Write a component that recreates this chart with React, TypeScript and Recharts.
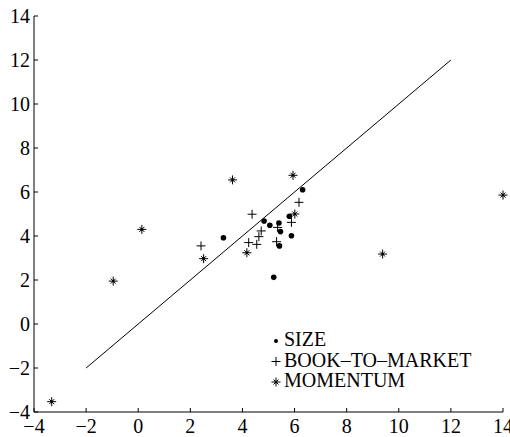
import {
  ScatterChart, Scatter, XAxis, YAxis, ReferenceLine, Legend,
} from 'recharts'

// average returns: x = predicted, y = realised
const sizeX = [3.27, 4.83, 5.05, 5.4, 5.46, 5.42, 5.8, 5.88, 6.31, 5.2]
const sizeY = [3.92, 4.68, 4.49, 4.59, 4.2, 3.55, 4.9, 4.01, 6.1, 2.12]
const btmX = [2.41, 4.37, 4.24, 4.55, 4.63, 4.72, 5.35, 5.31, 5.88, 6.17]
const btmY = [3.55, 4.99, 3.7, 3.62, 3.97, 4.23, 4.39, 3.74, 4.62, 5.53]
const momX = [-3.32, -0.96, 0.14, 2.51, 3.62, 4.17, 5.94, 6.01, 9.38, 14.0]
const momY = [-3.53, 1.95, 4.3, 2.97, 6.55, 3.24, 6.76, 5.0, 3.18, 5.86]

const lineEnds = [-2, 12]
const axisTicks = [-4, -2, 0, 2, 4, 6, 8, 10, 12, 14]
const legendLabels = ['SIZE', 'BOOK\u2013TO\u2013MARKET', 'MOMENTUM']

const toPoints = (xs: number[], ys: number[]) => xs.map((x, i) => ({ x, y: ys[i] }))

const sizeData = toPoints(sizeX, sizeY)
const btmData = toPoints(btmX, btmY)
const momData = toPoints(momX, momY)

const FONT = 'Liberation Serif'
const INK = '#000'

const fmt = (v: number) => (v < 0 ? '\u2212' + Math.abs(v) : String(v))

function Dot({ cx, cy }: any) {
  return <circle cx={cx} cy={cy} r={2.8} fill={INK} />
}

function Plus({ cx, cy }: any) {
  return (
    <g stroke={INK} strokeWidth={1}>
      <line x1={cx - 4.5} y1={cy} x2={cx + 4.5} y2={cy} />
      <line x1={cx} y1={cy - 4.5} x2={cx} y2={cy + 4.5} />
    </g>
  )
}

function Star({ cx, cy }: any) {
  return (
    <g stroke={INK} strokeWidth={1}>
      <line x1={cx - 4.5} y1={cy} x2={cx + 4.5} y2={cy} />
      <line x1={cx} y1={cy - 4.5} x2={cx} y2={cy + 4.5} />
      <line x1={cx - 2.5} y1={cy - 2.5} x2={cx + 2.5} y2={cy + 2.5} />
      <line x1={cx - 2.5} y1={cy + 2.5} x2={cx + 2.5} y2={cy - 2.5} />
      <circle cx={cx} cy={cy} r={1.3} fill={INK} stroke="none" />
    </g>
  )
}

const legendMarks = [Dot, Plus, Star]

function LegendBox() {
  return (
    <svg width={240} height={70}>
      {legendLabels.map((label, i) => {
        const Mark = legendMarks[i]
        const base = 20 + i * 20.5
        return (
          <g key={label}>
            {i === 0
              ? <circle cx={10} cy={base - 5} r={2} fill={INK} />
              : <Mark cx={10} cy={base - 5} />}
            <text x={18} y={base} fontFamily={FONT} fontSize={20} fill={INK}>{label}</text>
          </g>
        )
      })}
    </svg>
  )
}

export default function App() {
  const tickStyle = { fontFamily: FONT, fontSize: 20, fill: INK }
  return (
    <div style={{ position: 'absolute', left: 0, top: 0, background: '#fff' }}>
      <ScatterChart width={510} height={437} margin={{ top: 16, right: 7, bottom: 0, left: 0 }}>
        <XAxis
          type="number" dataKey="x" xAxisId="b" domain={[-4, 14]} ticks={axisTicks}
          height={25} tickSize={-4} tickMargin={11} tickFormatter={fmt}
          tick={tickStyle} stroke={INK} interval={0}
        />
        <XAxis
          type="number" dataKey="x" xAxisId="t" orientation="top" domain={[-4, 14]} ticks={axisTicks}
          height={0} tickSize={-4} tick={false} stroke={INK}
        />
        <YAxis
          type="number" dataKey="y" yAxisId="l" domain={[-4, 14]} ticks={axisTicks}
          width={34} tickSize={-4} tickMargin={8} tickFormatter={fmt}
          tick={tickStyle} stroke={INK} interval={0}
        />
        <YAxis
          type="number" dataKey="y" yAxisId="r" orientation="right" domain={[-4, 14]} ticks={axisTicks}
          width={0} tickSize={-4} tick={false} stroke={INK}
        />
        <ReferenceLine
          xAxisId="b" yAxisId="l"
          segment={[{ x: lineEnds[0], y: lineEnds[0] }, { x: lineEnds[1], y: lineEnds[1] }]}
          stroke={INK} strokeWidth={1}
        />
        <Scatter name="SIZE" data={sizeData} xAxisId="b" yAxisId="l" shape={Dot} isAnimationActive={false} />
        <Scatter name="BTM" data={btmData} xAxisId="b" yAxisId="l" shape={Plus} isAnimationActive={false} />
        <Scatter name="MOM" data={momData} xAxisId="b" yAxisId="l" shape={Star} isAnimationActive={false} />
        <Scatter data={momData} xAxisId="t" yAxisId="r" shape={() => null} isAnimationActive={false} legendType="none" />
        <Legend
          layout="vertical" align="center" verticalAlign="middle"
          content={() => <LegendBox />}
          wrapperStyle={{ left: 266, top: 326, width: 240, height: 70 }}
        />
      </ScatterChart>
    </div>
  )
}
